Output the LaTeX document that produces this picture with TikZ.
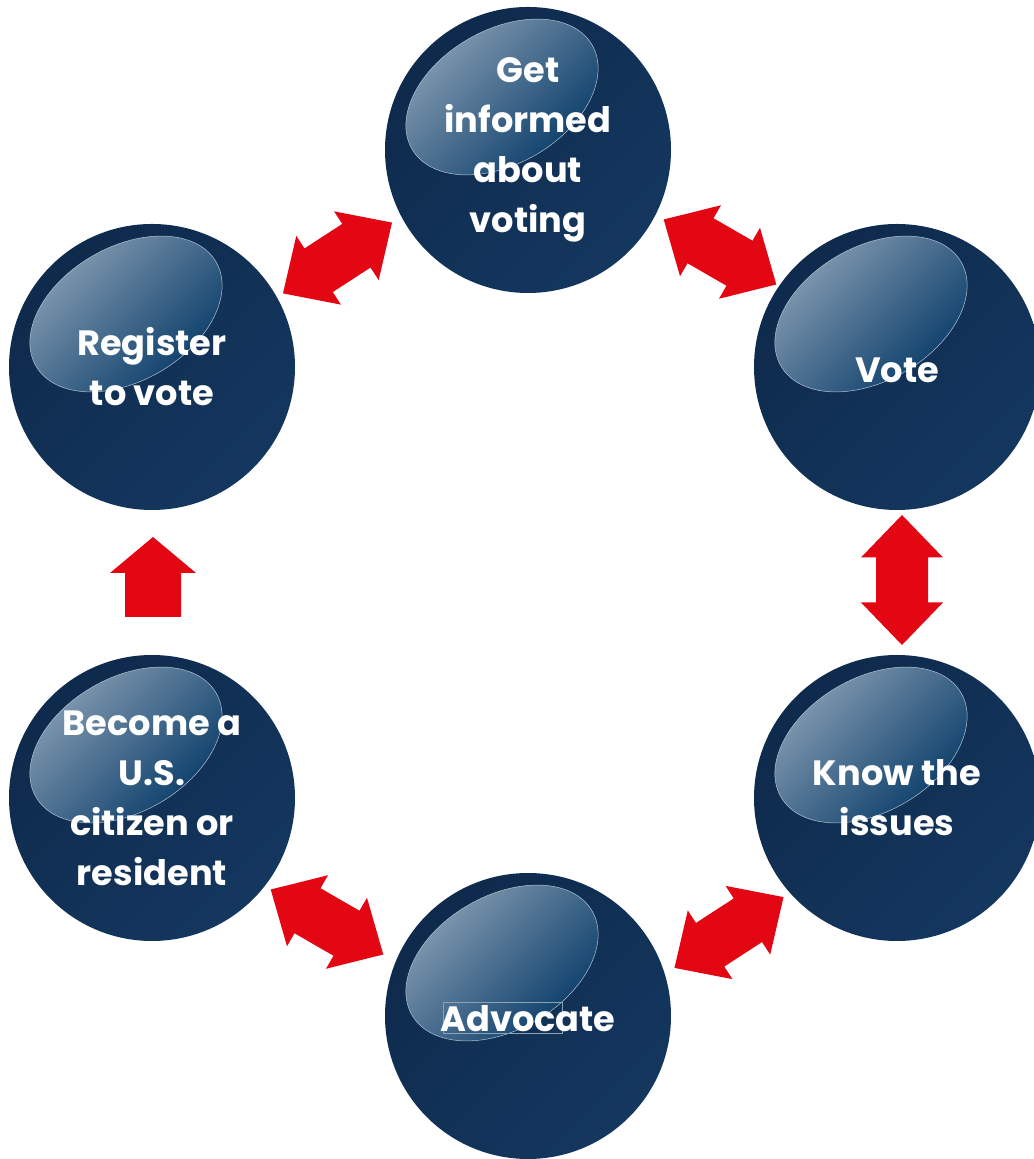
\documentclass[tikz,border=0pt]{standalone}
\usepackage{fontspec}
\setmainfont{Poppins}
\usepackage{tikz}
\usepackage{xcolor}

\definecolor{navy}{HTML}{0E2A4C}
\definecolor{navylight}{HTML}{14375F}
\definecolor{glosslight}{HTML}{8CA2B7}
\definecolor{glossmid}{HTML}{3F6588}
\definecolor{glossdark}{HTML}{003563}
\definecolor{arrowred}{HTML}{E30613}

\tikzset{
  bubble/.style={circle, minimum size=5.72cm, inner sep=0pt,
    top color=navy, middle color=navy, bottom color=navylight, shading angle=45},
  gloss/.style={top color=glosslight, middle color=glossmid, bottom color=glossdark,
    shading angle=45, draw=glosslight!70, line width=.3pt},
  bubbletext/.style={text=white, align=center,
    font=\bfseries\fontsize{20}{28.5}\selectfont},
  dblarrow/.pic={\fill[arrowred] (1.3,0) -- (.45,.82) -- (.45,.52) -- (-.45,.52)
    -- (-.45,.82) -- (-1.3,0) -- (-.45,-.82) -- (-.45,-.52) -- (.45,-.52)
    -- (.45,-.82) -- cycle;},
  uparrow/.pic={\fill[arrowred] (0,.8) -- (.86,.08) -- (.56,.08) -- (.56,-.8)
    -- (-.56,-.8) -- (-.56,.08) -- (-.86,.08) -- cycle;}
}

\begin{document}
\begin{tikzpicture}
  \path[use as bounding box, clip] (0,0) rectangle (20.68,23.18);
  % the six bubbles
  \node (gi) [bubble] at (10.56,20.18) {};
  \node (rv) [bubble] at (3.04,15.84) {};
  \node (vo) [bubble] at (17.94,15.84) {};
  \node (bc) [bubble] at (3.04,7.22) {};
  \node (ki) [bubble] at (17.94,7.22) {};
  \node (ad) [bubble] at (10.56,2.86) {};
  % gloss on top of each bubble
  \path (gi) +(-.52,1.06) coordinate (gig);
  \path (rv) +(-.52,1.06) coordinate (rvg);
  \path (vo) +(-.52,1.06) coordinate (vog);
  \path (bc) +(-.52,1.06) coordinate (bcg);
  \path (ki) +(-.52,1.06) coordinate (kig);
  \path (ad) +(-.52,1.06) coordinate (adg);
  \shade[gloss, rotate around={30:(gig)}] (gig) ellipse (2.08 and 1.34);
  \shade[gloss, rotate around={30:(rvg)}] (rvg) ellipse (2.08 and 1.34);
  \shade[gloss, rotate around={30:(vog)}] (vog) ellipse (2.08 and 1.34);
  \shade[gloss, rotate around={30:(bcg)}] (bcg) ellipse (2.08 and 1.34);
  \shade[gloss, rotate around={30:(kig)}] (kig) ellipse (2.08 and 1.34);
  \shade[gloss, rotate around={30:(adg)}] (adg) ellipse (2.08 and 1.34);
  \draw[glosslight, line width=.3pt] (ad) +(-1.70,-.34) rectangle +(.68,.28);
  % texts
  \node (git) [bubbletext] at (gi) {Get\\informed\\about\\voting};
  \node (rvt) [bubbletext] at (rv) {Register\\to vote};
  \node (vot) [bubbletext] at ([yshift=-.06cm]vo) {Vote};
  \node (bct) [bubbletext] at (bc) {Become a\\U.S.\\citizen or\\resident};
  \node (kit) [bubbletext] at (ki) {Know the\\issues};
  \node (adt) [bubbletext] at ([yshift=-.06cm]ad) {Advocate};
  % red arrows between the bubbles
  \path (rv) +(3.71,2.18) coordinate (rvgi);
  \path (gi) +(3.84,-2.04) coordinate (givo);
  \path (vo) +(.10,-4.26) coordinate (voki);
  \path (ad) +(4.02,1.67) coordinate (kiad);
  \path (bc) +(3.50,-2.48) coordinate (adbc);
  \path (bc) +(.02,4.42) coordinate (bcrv);
  \pic[rotate=33] at (rvgi) {dblarrow};
  \pic[rotate=-30] at (givo) {dblarrow};
  \pic[rotate=90] at (voki) {dblarrow};
  \pic[rotate=33] at (kiad) {dblarrow};
  \pic[rotate=-30] at (adbc) {dblarrow};
  \pic at (bcrv) {uparrow};
\end{tikzpicture}
\end{document}
